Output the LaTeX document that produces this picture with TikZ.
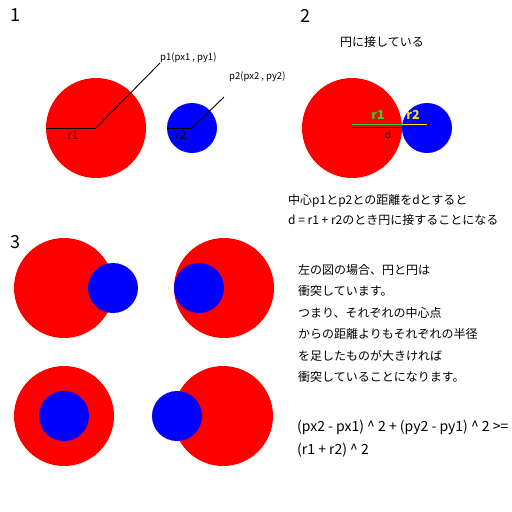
\documentclass[tikz,border=0pt]{standalone}
\usepackage{fontspec}
\setmainfont{Noto Sans CJK JP}
\definecolor{BallRed}{HTML}{FF0000}
\definecolor{BallBlue}{HTML}{0000FF}
\definecolor{RadGreen}{HTML}{33CC33}
\definecolor{RadYellow}{HTML}{FFE000}
\usetikzlibrary{positioning, calc}

\begin{document}
\begin{tikzpicture}[x=1pt, y=-1pt,
  bigball/.style={circle, fill=BallRed, inner sep=0pt, minimum size=100pt},
  smallball/.style={circle, fill=BallBlue, inner sep=0pt, minimum size=50pt},
  panelno/.style={font=\fontsize{18}{18}\selectfont},
  tag/.style={font=\fontsize{9.5}{10}\selectfont, inner sep=0pt},
  jtext/.style={font=\fontsize{12}{12}\selectfont, anchor=base west, inner sep=0pt}]
  \useasboundingbox (0,0) rectangle (512,512);
  % Panel 1
  \node[panelno] (n1) at (15,15) {1};
  \node[bigball] (a1) at (96,128) {};
  \node[smallball] (b1) at (192,128) {};
  \draw[line width=0.9pt] (a1.west) -- (a1.center);
  \draw[line width=0.9pt] (b1.west) -- (b1.center);
  \node[font=\fontsize{11.5}{11}\selectfont] (ra1) at (73,135) {r1};
  \node[font=\fontsize{11.5}{11}\selectfont] (rb1) at (181,135) {r2};
  \node[tag, anchor=south west] (p1) at (160,63) {p1(px1 , py1)};
  \node[tag, anchor=south west] (p2) at (229,82) {p2(px2 , py2)};
  \draw[line width=0.9pt] (a1.center) -- (p1.south west);
  \draw[line width=0.9pt] (b1.center) -- (224,97) coordinate (p2end);
  % Panel 2
  \node[panelno] (n2) at (305,16) {2};
  \node[font=\fontsize{12}{12}\selectfont] (title2) at (382,42) {円に接している};
  \node[bigball] (a2) at (352,128) {};
  \node[smallball] (b2) at (427,128) {};
  \draw[RadGreen, line width=1pt] ($(a2.center)+(0,-3.5)$) coordinate (g1) -- ($(a2.east)+(0,-3.5)$) coordinate (g2);
  \draw[RadYellow, line width=1pt] (g2) -- ($(b2.center)+(0,-3.5)$);
  \draw[line width=1pt] ($(a2.center)+(0,-1)$) -- ($(b2.center)+(0,-1)$);
  \node[RadGreen, font=\fontsize{12.5}{12}\selectfont\bfseries] (ra2) at (378,115) {r1};
  \node[RadYellow, font=\fontsize{12.5}{12}\selectfont\bfseries] (rb2) at (413,115) {r2};
  \node[font=\fontsize{10}{10}\selectfont] (d2) at (388,135) {d};
  \node[jtext] (t21) at (288,204) {中心p1とp2との距離をdとすると};
  \node[jtext] (t22) at (288,224) {d = r1 + r2のとき円に接することになる};
  % Panel 3
  \node[panelno] (n3) at (15,242) {3};
  \node[bigball] (a31) at (64,288) {};
  \node[smallball] (b31) at (113,288) {};
  \node[bigball] (a32) at (224,288) {};
  \node[smallball] (b32) at (199,288) {};
  \node[bigball] (a33) at (64,416) {};
  \node[smallball] (b33) at (64,416) {};
  \node[bigball] (a34) at (223,416) {};
  \node[smallball] (b34) at (177,416) {};
  \node[jtext] (t31) at (298,274) {左の図の場合、円と円は};
  \node[jtext] (t32) at (298,295) {衝突しています。};
  \node[jtext] (t33) at (298,317) {つまり、それぞれの中心点};
  \node[jtext] (t34) at (298,338) {からの距離よりもそれぞれの半径};
  \node[jtext] (t35) at (298,360) {を足したものが大きければ};
  \node[jtext] (t36) at (298,381) {衝突していることになります。};
  \node[jtext, font=\fontsize{14}{14}\selectfont] (f1) at (297,431) {(px2 - px1) \^{} 2 + (py2 - py1) \^{} 2 >=};
  \node[jtext, font=\fontsize{14}{14}\selectfont] (f2) at (297,454) {(r1 + r2) \^{} 2};
\end{tikzpicture}
\end{document}
